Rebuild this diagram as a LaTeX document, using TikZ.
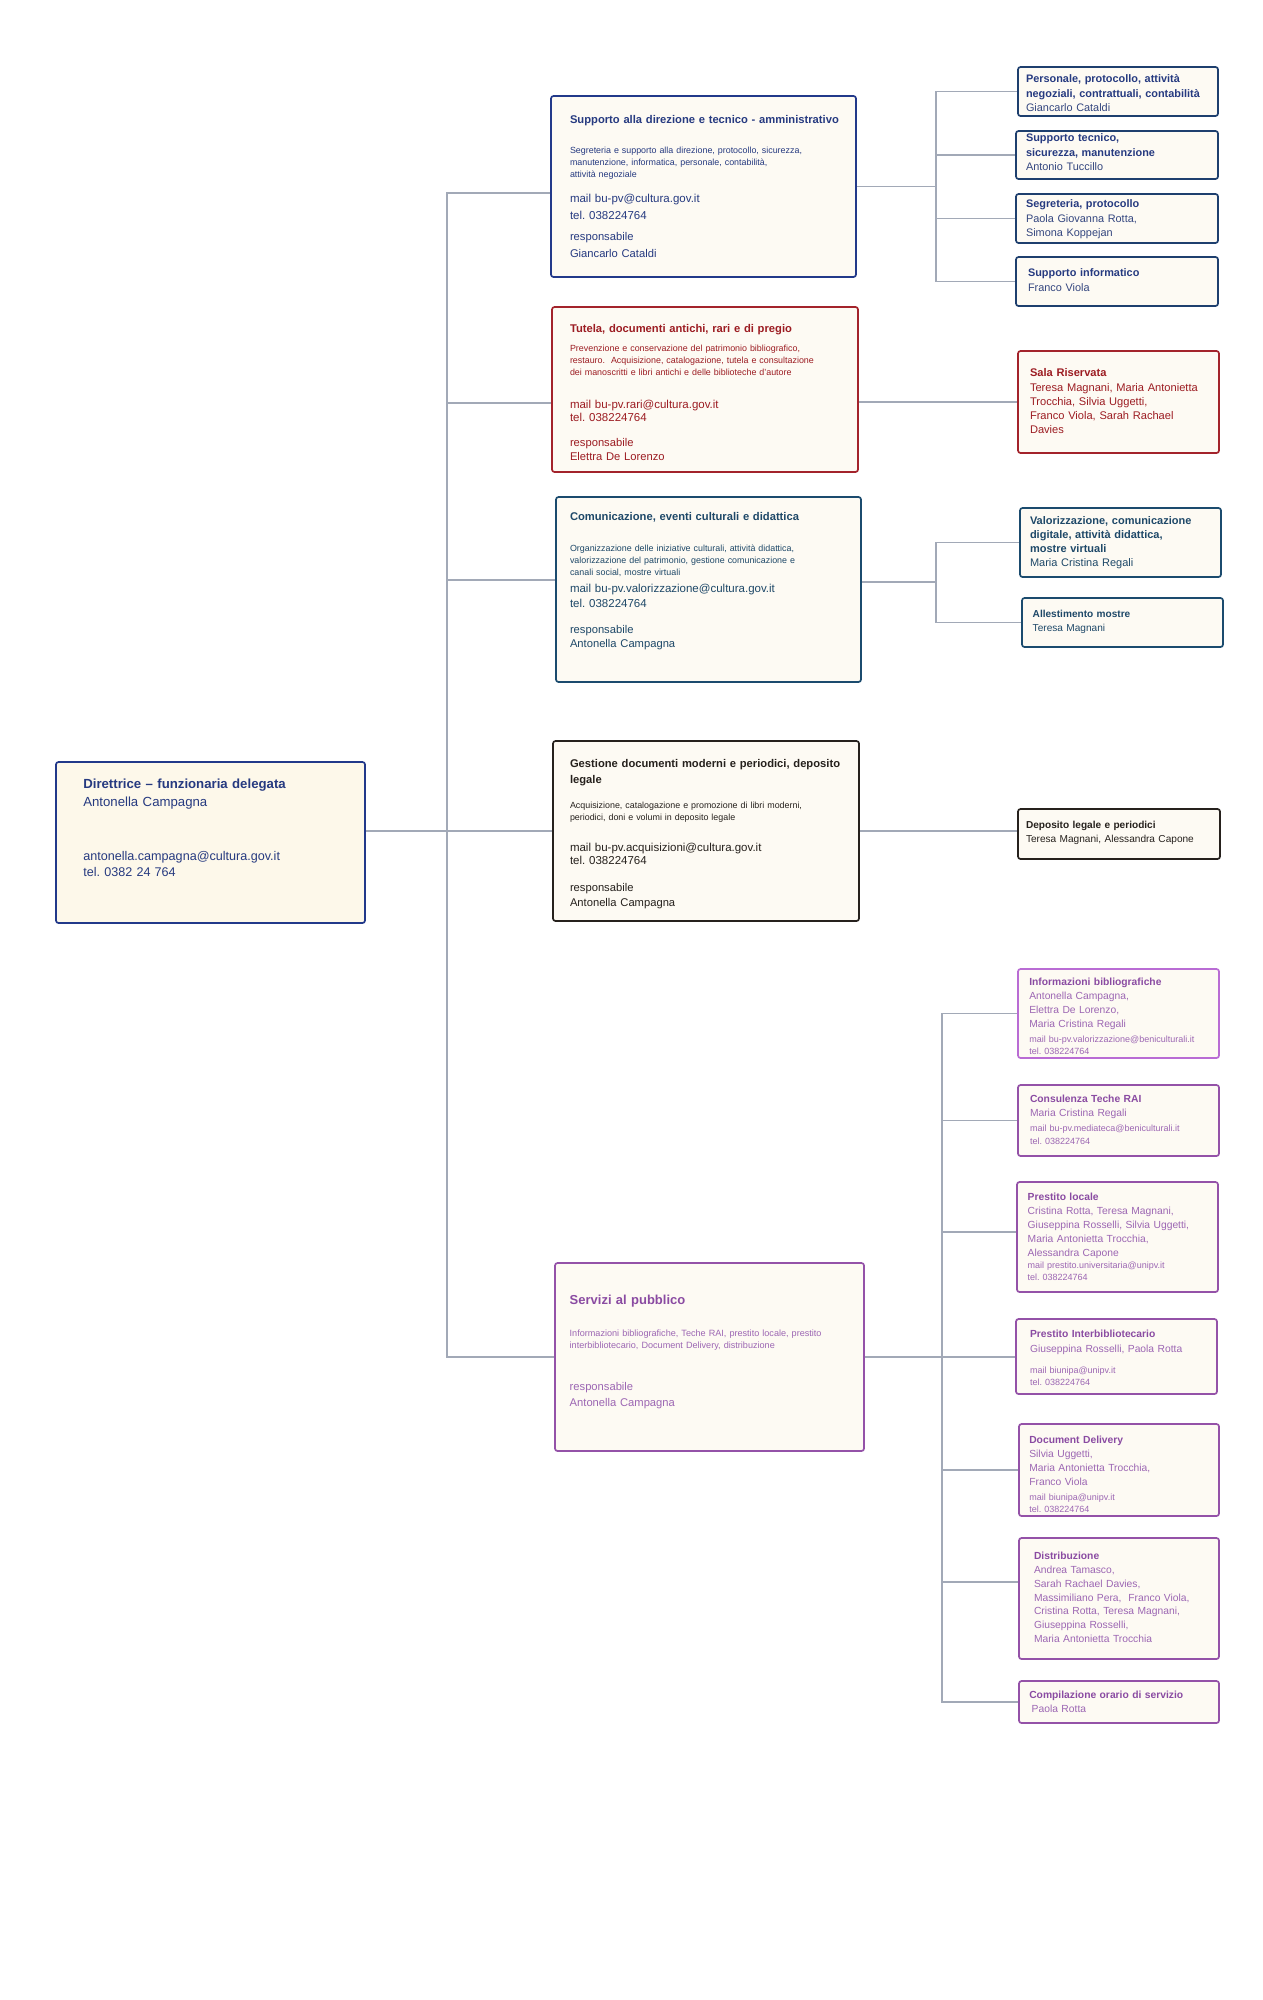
\documentclass[tikz,border=0pt]{standalone}
\usepackage{fontspec}
\setmainfont{Liberation Sans}
\usetikzlibrary{backgrounds}
\frenchspacing
\definecolor{cream}{HTML}{FDFAF3}
\definecolor{creamy}{HTML}{FDF8EA}
\definecolor{navyb}{HTML}{22398A}
\definecolor{navyt}{HTML}{263A80}
\definecolor{namet}{HTML}{34467F}
\definecolor{subb}{HTML}{1E3F6E}
\definecolor{redb}{HTML}{A3232B}
\definecolor{redt}{HTML}{9C1C22}
\definecolor{tealb}{HTML}{1B4B6E}
\definecolor{tealt}{HTML}{1E4868}
\definecolor{blk}{HTML}{26211D}
\definecolor{purb}{HTML}{9452A8}
\definecolor{purt}{HTML}{8A4BA2}
\definecolor{purn}{HTML}{9C66B3}
\definecolor{pinkb}{HTML}{B96CD4}
\definecolor{connc}{HTML}{A2A9B7}
\newcommand{\fs}[2]{\fontsize{#1}{#2}\selectfont}
\newcommand{\bx}[7]{\node[box,draw=#6,fill=#7,minimum width={#4pt-#2pt},minimum height={#5pt-#3pt}] (#1) at (#2,-#3) {};}
\newcommand{\tx}[6]{\node[txt,text=#5,font={\frenchspacing#4}] (#1) at (#2,-#3) {#6};}
\begin{document}
\begin{tikzpicture}[x=1pt,y=1pt,
  box/.style={rounded corners=2.5pt,line width=1.7pt,inner sep=0pt,outer sep=0pt,anchor=north west},
  txt/.style={anchor=base west,inner sep=0pt,outer sep=0pt,text width=340pt,align=left},
  conn/.style={draw=connc,line width=1.3pt}]
\useasboundingbox (0,0) rectangle (1263,-2000);

% ---------- boxes ----------
\bx{dir}{56}{762}{365}{923}{navyb}{creamy}
\bx{b1}{551}{96}{856}{277}{navyb}{cream}
\bx{s11}{1018}{67}{1218}{116}{subb}{cream}
\bx{s12}{1016}{131}{1218}{179}{subb}{cream}
\bx{s13}{1016}{194}{1218}{243}{subb}{cream}
\bx{s14}{1016}{257}{1218}{306}{subb}{cream}
\bx{red}{552}{307}{858}{472}{redb}{cream}
\bx{sala}{1018}{351}{1219}{453}{redb}{cream}
\bx{com}{556}{497}{861}{682}{tealb}{cream}
\bx{val}{1020}{508}{1221}{577}{tealb}{cream}
\bx{all}{1022}{598}{1223}{647}{tealb}{cream}
\bx{ges}{553}{741}{859}{921}{blk}{cream}
\bx{dep}{1018}{809}{1220}{859}{blk}{cream}
\bx{srv}{555}{1263}{864}{1451}{purb}{cream}
\bx{inf}{1018}{969}{1219}{1058}{pinkb}{cream}
\bx{con}{1018}{1085}{1219}{1156}{purb}{cream}
\bx{plo}{1017}{1182}{1218}{1292}{purb}{cream}
\bx{int}{1016}{1319}{1217}{1394}{purb}{cream}
\bx{doc}{1019}{1424}{1219}{1516}{purb}{cream}
\bx{dis}{1019}{1538}{1219}{1659}{purb}{cream}
\bx{cmp}{1019}{1681}{1219}{1723}{purb}{cream}

% ---------- connectors ----------
\coordinate (mt) at (447,-193);
\coordinate (mb) at (447,-1357);
\coordinate (rl) at (447,-403);
\coordinate (cl) at (447,-580);
\coordinate (ta) at (936,-186.5);
\coordinate (tc) at (936,-582);
\coordinate (tp) at (942,-1357);
\coordinate (pl) at (942,-1232);
\coordinate (dl) at (942,-1582);
\begin{pgfonlayer}{background}
\fill[white] (0,0) rectangle (1263,-2000);
\draw[conn] (b1.west |- mt) -- (mt) -- (mb) -- (srv.west |- mb);
\draw[conn] (rl) -- (red.west |- rl);
\draw[conn] (cl) -- (com.west |- cl);
\draw[conn] (dir.east |- ges.west) -- (ges.west);
\draw[conn] (b1.east |- ta) -- (ta);
\draw[conn] (s11.west) -- (s11.west -| ta) -- (s14.west -| ta) -- (s14.west);
\draw[conn] (s12.west -| ta) -- (s12.west);
\draw[conn] (s13.west -| ta) -- (s13.west);
\draw[conn] (red.east |- sala.west) -- (sala.west);
\draw[conn] (com.east |- tc) -- (tc);
\draw[conn] (val.west) -- (val.west -| tc) -- (all.west -| tc) -- (all.west);
\draw[conn] (ges.east) -- (dep.west |- ges.east);
\draw[conn] (srv.east |- tp) -- (tp);
\draw[conn] (inf.west) -- (inf.west -| tp) -- (cmp.west -| tp) -- (cmp.west);
\draw[conn] (con.west -| tp) -- (con.west);
\draw[conn] (pl) -- (plo.west |- pl);
\draw[conn] (tp) -- (int.west |- tp);
\draw[conn] (doc.west -| tp) -- (doc.west);
\draw[conn] (dl) -- (dis.west |- dl);
\end{pgfonlayer}

% ---------- director ----------
\tx{dt}{83.3}{788.3}{\fs{13.2}{17.7}}{navyt}{\textbf{Direttrice – funzionaria delegata}\\Antonella Campagna}
\tx{dc}{83.3}{860}{\fs{12.6}{16}}{navyt}{antonella.campagna@cultura.gov.it\\tel. 0382 24 764}

% ---------- box 1 ----------
\tx{b1t}{570}{123}{\fs{11.2}{14}\bfseries}{navyt}{Supporto alla direzione e tecnico - amministrativo}
\tx{b1d}{570}{153}{\fs{8.9}{12.4}}{navyt}{Segreteria e supporto alla direzione, protocollo, sicurezza,\\manutenzione, informatica, personale, contabilità,\\attività negoziale}
\tx{b1c}{570}{202.7}{\fs{11.5}{16.4}}{navyt}{mail bu-pv@cultura.gov.it\\tel. 038224764}
\tx{b1r}{570}{240}{\fs{11.2}{17}}{navyt}{responsabile\\Giancarlo Cataldi}
\tx{s11t}{1026}{82.7}{\fs{10.9}{14.5}}{navyt}{\textbf{Personale, protocollo, attività}\\\textbf{negoziali, contrattuali, contabilità}\\\textcolor{namet}{Giancarlo Cataldi}}
\tx{s12t}{1026}{141.7}{\fs{10.9}{14.6}}{navyt}{\textbf{Supporto tecnico,}\\\textbf{sicurezza, manutenzione}\\\textcolor{namet}{Antonio Tuccillo}}
\tx{s13t}{1026}{207.7}{\fs{10.9}{14.5}}{navyt}{\textbf{Segreteria, protocollo}\\\textcolor{namet}{Paola Giovanna Rotta,}\\\textcolor{namet}{Simona Koppejan}}
\tx{s14t}{1028}{276}{\fs{10.9}{15.7}}{navyt}{\textbf{Supporto informatico}\\\textcolor{namet}{Franco Viola}}

% ---------- red ----------
\tx{rt}{570}{332.7}{\fs{11.2}{14}\bfseries}{redt}{Tutela, documenti antichi, rari e di pregio}
\tx{rd}{570}{351.7}{\fs{8.9}{11.7}}{redt}{Prevenzione e conservazione del patrimonio bibliografico,\\restauro.\ \ Acquisizione, catalogazione, tutela e consultazione\\dei manoscritti e libri antichi e delle biblioteche d'autore}
\tx{rc}{570}{408.3}{\fs{11.5}{13.4}}{redt}{mail bu-pv.rari@cultura.gov.it\\tel. 038224764}
\tx{rr}{570}{446.7}{\fs{11.2}{14}}{redt}{responsabile\\Elettra De Lorenzo}
\tx{salat}{1030}{376.7}{\fs{11.1}{14.3}}{redt}{\textbf{Sala Riservata}\\Teresa Magnani, Maria Antonietta\\Trocchia, Silvia Uggetti,\\Franco Viola, Sarah Rachael\\Davies}

% ---------- comunicazione ----------
\tx{ct}{570}{520}{\fs{11.2}{14}\bfseries}{tealt}{Comunicazione, eventi culturali e didattica}
\tx{cd}{570}{551.7}{\fs{8.9}{11.7}}{tealt}{Organizzazione delle iniziative culturali, attività didattica,\\valorizzazione del patrimonio, gestione comunicazione e\\canali social, mostre virtuali}
\tx{cc}{570}{592.7}{\fs{11.5}{15}}{tealt}{mail bu-pv.valorizzazione@cultura.gov.it\\tel. 038224764}
\tx{cr}{570}{633.3}{\fs{11.2}{14.4}}{tealt}{responsabile\\Antonella Campagna}
\tx{valt}{1030}{524}{\fs{11}{14.2}}{tealt}{\textbf{Valorizzazione, comunicazione}\\\textbf{digitale, attività didattica,}\\\textbf{mostre virtuali}\\Maria Cristina Regali}
\tx{allt}{1032.7}{617.3}{\fs{10.1}{13.7}}{tealt}{\textbf{Allestimento mostre}\\Teresa Magnani}

% ---------- gestione ----------
\tx{gt}{570}{767.7}{\fs{11.2}{15.6}\bfseries}{blk}{Gestione documenti moderni e periodici, deposito\\legale}
\tx{gd}{570}{808.3}{\fs{8.9}{11.7}}{blk}{Acquisizione, catalogazione e promozione di libri moderni,\\periodici, doni e volumi in deposito legale}
\tx{gc}{570}{851}{\fs{11.5}{13.3}}{blk}{mail bu-pv.acquisizioni@cultura.gov.it\\tel. 038224764}
\tx{gr}{570}{891.7}{\fs{11.2}{15}}{blk}{responsabile\\Antonella Campagna}
\tx{dept}{1026}{828}{\fs{10.1}{14}}{blk}{\textbf{Deposito legale e periodici}\\Teresa Magnani, Alessandra Capone}

% ---------- servizi ----------
\tx{pt}{569.7}{1304.3}{\fs{13}{16}\bfseries}{purt}{Servizi al pubblico}
\tx{pd}{569.7}{1336.7}{\fs{9.1}{12}}{purn}{Informazioni bibliografiche, Teche RAI, prestito locale, prestito\\interbibliotecario, Document Delivery, distribuzione}
\tx{pr}{569.7}{1390.7}{\fs{11.2}{15.3}}{purn}{responsabile\\Antonella Campagna}

\tx{inft}{1029.3}{985}{\fs{10.3}{14.1}}{purn}{\textbf{\color{purt}Informazioni bibliografiche}\\Antonella Campagna,\\Elettra De Lorenzo,\\Maria Cristina Regali}
\tx{infm}{1029.3}{1042.7}{\fs{9}{11.4}}{purn}{mail bu-pv.valorizzazione@beniculturali.it\\tel. 038224764}
\tx{cont}{1030}{1102.7}{\fs{10.3}{14}}{purn}{\textbf{\color{purt}Consulenza Teche RAI}\\Maria Cristina Regali}
\tx{conm}{1030}{1131.7}{\fs{9}{12.3}}{purn}{mail bu-pv.mediateca@beniculturali.it\\tel. 038224764}
\tx{plot}{1027.7}{1200}{\fs{10.3}{14}}{purn}{\textbf{\color{purt}Prestito locale}\\Cristina Rotta, Teresa Magnani,\\Giuseppina Rosselli, Silvia Uggetti,\\Maria Antonietta Trocchia,\\Alessandra Capone}
\tx{plom}{1027.7}{1268.3}{\fs{9}{12.4}}{purn}{mail prestito.universitaria@unipv.it\\tel. 038224764}
\tx{intt}{1030}{1337.7}{\fs{10.3}{15}}{purn}{\textbf{\color{purt}Prestito Interbibliotecario}\\Giuseppina Rosselli, Paola Rotta}
\tx{intm}{1030}{1373.3}{\fs{9}{11.7}}{purn}{mail biunipa@unipv.it\\tel. 038224764}
\tx{doct}{1029.3}{1443.3}{\fs{10.3}{14.1}}{purn}{\textbf{\color{purt}Document Delivery}\\Silvia Uggetti,\\Maria Antonietta Trocchia,\\Franco Viola}
\tx{docm}{1029.3}{1500.7}{\fs{9}{11.6}}{purn}{mail biunipa@unipv.it\\tel. 038224764}
\tx{dist}{1034}{1559.3}{\fs{10.3}{13.9}}{purn}{\textbf{\color{purt}Distribuzione}\\Andrea Tamasco,\\Sarah Rachael Davies,\\Massimiliano Pera,\ \ Franco Viola,\\Cristina Rotta, Teresa Magnani,\\Giuseppina Rosselli,\\Maria Antonietta Trocchia}
\tx{cmpt}{1029.3}{1698.3}{\fs{10.3}{14.4}}{purn}{\textbf{\color{purt}Compilazione orario di servizio}\\\hspace*{2.4pt}Paola Rotta}
\end{tikzpicture}
\end{document}
